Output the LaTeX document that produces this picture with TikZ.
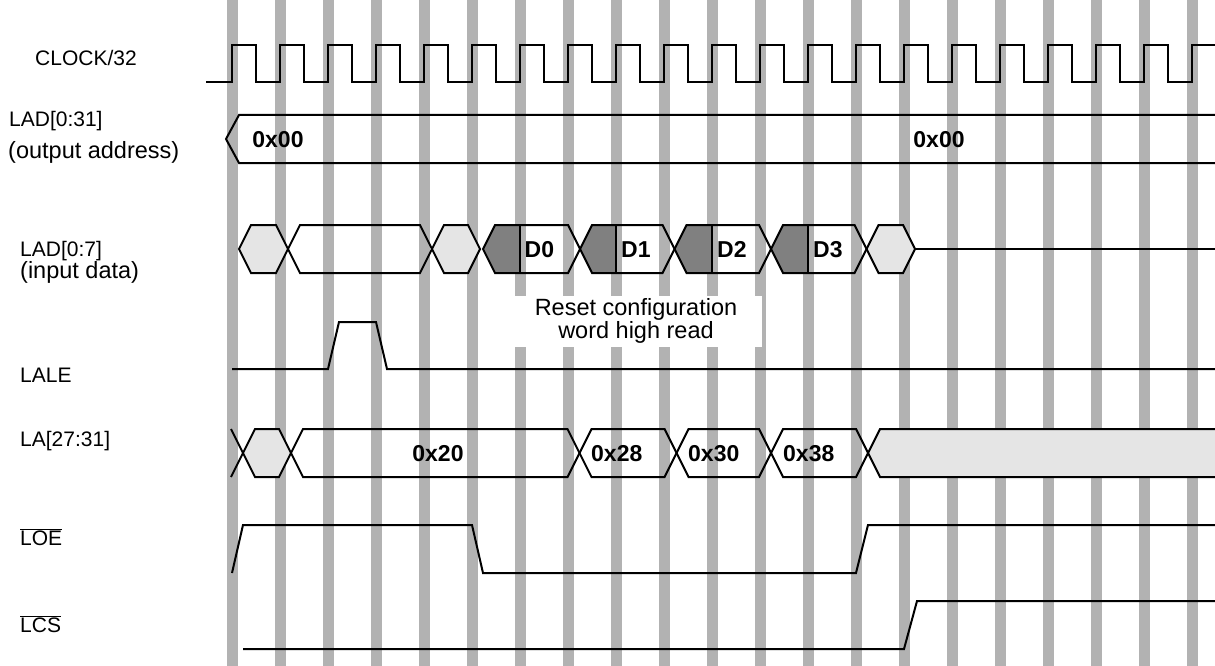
\documentclass[tikz,border=0pt]{standalone}
\usepackage{fontspec}
\setmainfont{Liberation Sans}
\newcommand\hexshape[4]{\draw[wave,#4] (#1,#3) -- ({#1+12},{#3-24}) -- ({#2-12},{#3-24}) -- (#2,#3) -- ({#2-12},{#3+24}) -- ({#1+12},{#3+24}) -- cycle;}
\newcommand\dseg[5]{%
  \fill[dark] (#1,249) -- ({#1+12},225) -- (#2,225) -- (#2,273) -- ({#1+12},273) -- cycle;
  \hexshape{#1}{#3}{249}{}
  \draw[wave] (#2,225) -- (#2,273);
  \node[val,anchor=west] (#4) at ({#2+5},249) {#5};}
\begin{document}
\begin{tikzpicture}[x=1pt,y=-1pt,
  wave/.style={line width=2pt, line join=miter},
  bar/.style={fill=black!30},
  lite/.style={fill=black!10},
  dark/.style={fill=black!50},
  lbl/.style={anchor=west, inner sep=0pt, font=\fontsize{21}{25}\selectfont},
  sublbl/.style={anchor=west, inner sep=0pt, font=\fontsize{23.5}{27}\selectfont},
  val/.style={inner sep=0pt, text height=16.5pt, text depth=0pt, font=\fontsize{23}{27}\selectfont\bfseries},
]
\useasboundingbox (0,0) rectangle (1215,666);
% clock reference bars
\foreach \k in {0,...,20} \fill[bar] ({226.5+48*\k},0) rectangle ({237.5+48*\k},666);
% CLOCK/32
\draw[wave] (206,82) foreach \k in {0,...,19} { -- ({232+48*\k},82) -- ({232+48*\k},45) -- ({256+48*\k},45) -- ({256+48*\k},82) } -- (1192,82) -- (1192,45) -- (1215,45);
% LAD[0:31]
\draw[wave] (1215,115) -- (239,115) -- (226,139) -- (239,163) -- (1215,163);
\node[val] (a1) at (278,139) {0x00};
\node[val] (a2) at (939,139) {0x00};
% LAD[0:7]
\hexshape{239}{288}{249}{lite}
\hexshape{288}{432}{249}{}
\hexshape{432}{480}{249}{lite}
\dseg{483}{519.5}{580}{d0}{D0}
\dseg{580}{616}{674.5}{d1}{D1}
\dseg{674.5}{712}{771}{d2}{D2}
\dseg{771}{808}{866.5}{d3}{D3}
\hexshape{866.5}{915}{249}{lite}
\draw[wave] (915,249) -- (1215,249);
\node[fill=white, minimum width=252pt, minimum height=51pt, inner sep=0pt, align=center, font=\fontsize{23.5}{22.5}\selectfont] (note) at (636,321) {Reset configuration\\word high read};
% LALE
\draw[wave] (232,369) -- (328,369) -- (339,322) -- (376,322) -- (387,369) -- (1215,369);
% LA[27:31]
\draw[wave] (231,429) -- (243,453) -- (231,477);
\hexshape{243}{291}{453}{lite}
\hexshape{291}{579.5}{453}{}
\hexshape{579.5}{676.5}{453}{}
\hexshape{676.5}{771}{453}{}
\hexshape{771}{868}{453}{}
\draw[wave,lite] (1215,429) -- (880,429) -- (868,453) -- (880,477) -- (1215,477);
\node[val] (b1) at (438,453) {0x20};
\node[val,anchor=west] (b2) at (591,453) {0x28};
\node[val,anchor=west] (b3) at (688,453) {0x30};
\node[val,anchor=west] (b4) at (783,453) {0x38};
% LOE
\draw[wave] (232,573) -- (243,525) -- (472,525) -- (483,573) -- (856,573) -- (868,525) -- (1215,525);
% LCS
\draw[wave] (243,649) -- (904,649) -- (917,601) -- (1215,601);
% signal names
\node[lbl] (n1) at (35,58) {CLOCK/32};
\node[lbl] (n2) at (9,121) {LAD[0:31]};
\node[sublbl] (n3) at (8,152) {(output address)};
\node[lbl] (n4) at (20,251) {LAD[0:7]};
\node[sublbl] (n5) at (20,272) {(input data)};
\node[lbl] (n6) at (20,375) {LALE};
\node[lbl] (n7) at (20,441) {LA[27:31]};
\node[lbl] (n8) at (20,537) {$\overline{\hbox{LOE}}$};
\node[lbl] (n9) at (20,624) {$\overline{\hbox{LCS}}$};
\end{tikzpicture}
\end{document}
